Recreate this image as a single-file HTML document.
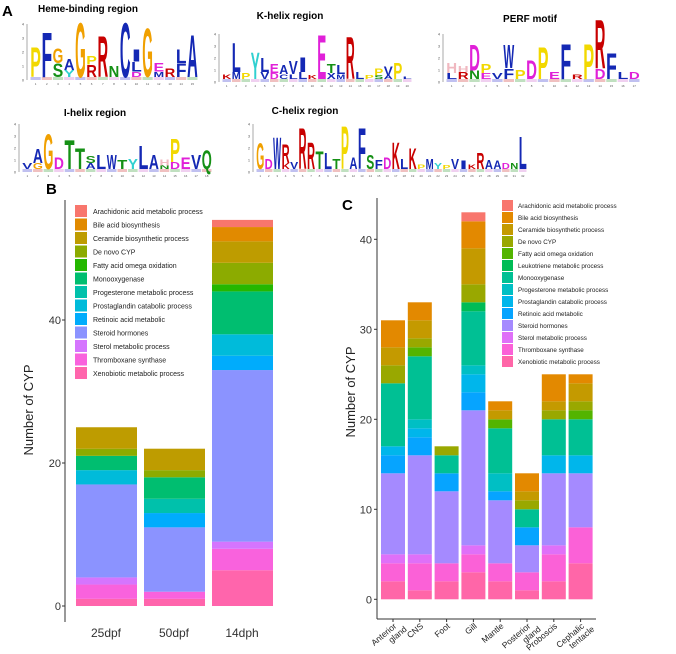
<!DOCTYPE html>
<html><head><meta charset="utf-8"><style>
body{margin:0;background:#fff;}
svg{display:block;font-family:"Liberation Sans",sans-serif;}
</style></head><body>
<svg id="fig" width="676" height="654" viewBox="0 0 676 654"></svg>
<script>
// ---------- Chart data ----------
const catsB = ["Arachidonic acid  metabolic process","Bile acid biosynthesis","Ceramide biosynthetic process","De novo CYP","Fatty acid omega   oxidation","Monooxygenase","Progesterone metabolic process","Prostaglandin catabolic process","Retinoic acid metabolic","Steroid hormones","Sterol metabolic process","Thromboxane synthase","Xenobiotic metabolic process"];
const colorsB = ["#F8766D","#E18A00","#BE9C00","#8CAB00","#24B700","#00BE70","#00C1AB","#00BBDA","#00ACFC","#8B93FF","#D575FE","#F962DD","#FF65AC"];
const groupsB = ["25dpf","50dpf","14dph"];
// values bottom-up ordering follows catsB (index), listed per group
const valsB_25dpf = [0,0,3,1,0,2,0,2,0,13,1,2,1];
const valsB_50dpf = [0,0,3,1,0,3,2,0,2,9,0,1,1];
const valsB_14dph = [1,2,3,3,1,6,0,3,2,24,1,3,5];
const ticksB = [0,20,40];

const catsC = ["Arachidonic acid  metabolic process","Bile acid biosynthesis","Ceramide biosynthetic process","De novo CYP","Fatty acid omega   oxidation","Leukotriene metabolic process","Monooxygenase","Progesterone metabolic process","Prostaglandin catabolic process","Retinoic acid metabolic","Steroid hormones","Sterol metabolic process","Thromboxane synthase","Xenobiotic metabolic process"];
const colorsC = ["#F8766D","#E38900","#C49A00","#99A800","#53B400","#00BC56","#00C094","#00BFC4","#00B6EB","#06A4FF","#A58AFF","#DF70F8","#FB61D7","#FF66A8"];
const groupsC = [["Anterior","gland"],["CNS"],["Foot"],["Gill"],["Mantle"],["Posterior","gland"],["Proboscis"],["Cephalic","tentacle"]];
const valsC_anterior = [0,3,2,2,0,0,7,0,1,2,9,1,2,2];
const valsC_cns      = [0,2,2,1,1,0,7,1,1,2,11,1,3,1];
const valsC_foot     = [0,0,0,1,0,0,2,0,0,2,8,0,2,2];
const valsC_gill     = [1,3,4,2,0,1,6,1,2,2,15,1,2,3];
const valsC_mantle   = [0,1,1,0,1,0,5,2,0,1,7,0,2,2];
const valsC_posterior= [0,2,1,1,0,0,2,0,0,2,3,0,2,1];
const valsC_proboscis= [0,3,1,1,0,0,4,0,2,0,8,1,3,2];
const valsC_cephalic = [0,1,2,1,1,0,4,0,2,0,6,0,4,4];
const ticksC = [0,10,20,30,40];

const NS="http://www.w3.org/2000/svg";
const svg=document.getElementById('fig');
function mk(tag,attrs,parent,txt){const e=document.createElementNS(NS,tag);for(const k in attrs)e.setAttribute(k,attrs[k]);if(txt!==undefined)e.textContent=txt;(parent||svg).appendChild(e);return e;}

// ---------- Panel labels ----------
let t;
t=mk('text',{x:2,y:16,'font-size':15,'font-weight':'bold'},svg,'A');


t=mk('text',{x:46,y:194,'font-size':15,'font-weight':'bold'},svg,'B');


t=mk('text',{x:342,y:210,'font-size':15,'font-weight':'bold'},svg,'C');



// ---------- Sequence logos ----------
const LC={P:"#f2d800",F:"#1428b4",G:"#f0a000",S:"#159015",A:"#1428b4",R:"#c80000",C:"#1428b4",L:"#1428b4",N:"#159015",E:"#e020d8",D:"#e020d8",Y:"#30d0d0",V:"#1428b4",I:"#1428b4",K:"#c80000",T:"#159015",W:"#1428b4",H:"#f0b8c0",M:"#1428b4",Q:"#159015",X:"#1428b4"};
function logo(name,title,tx,ty,x0,x1,base,bit,cols){
  const g=mk('g',{});
  
  
  const tt=mk('text',{x:tx,y:ty,'font-size':10,'font-weight':'bold','text-anchor':'middle'},g,title);
  
  
  mk('line',{x1:x0-3,x2:x0-3,y1:base,y2:base-4*bit,stroke:'#555','stroke-width':0.5},g);
  for(let i=0;i<=4;i++){mk('text',{x:x0-6,y:base-i*bit+1.5,'font-size':3.5,'text-anchor':'end',fill:'#444'},g,String(i));}
  const w=(x1-x0)/cols.length;
  cols.forEach((col,i)=>{
    let y=base;
    // small noise layer
    mk('rect',{x:x0+i*w+0.5,y:base-3,width:w-1,height:3,fill:['#c0c0f0','#f0c0c0','#c0e0c0','#f0d0f0'][i%4]},g);
    y-=3;
    for(let k=0;k<col.length;k+=2){
      const ch=col[k],h=col[k+1]*bit;
      const txt=mk('text',{x:0,y:0,'font-size':10,'font-weight':'bold',fill:LC[ch]||'#333',textLength:w*0.95/ (h/7.2) *0+w*0.95,lengthAdjust:'spacingAndGlyphs',transform:`translate(${x0+i*w+w*0.025},${y}) scale(1,${h/7.2})`},g,ch);
      y-=h;
    }
    mk('text',{x:x0+i*w+w/2,y:base+5,'font-size':3,'text-anchor':'middle',fill:'#555'},g,String(i+1));
  });
}
logo('heme-logo','Heme-binding region',88,12,30,198,80,14,[
 ['P',2.2],['F',3.3],['S',1.0,'G',1.1],['Y',0.5,'A',0.8],['G',4.0],['R',0.9,'P',0.6],['R',3.0],['N',0.8],['C',4.0],['D',0.4,'L',0.7,'I',0.9],['G',3.6],['M',0.4,'E',0.6],['R',0.6],['F',1.0,'L',1.0],['A',3.1]]);
logo('k-helix-logo','K-helix region',290,19,222,412,82,12,[
 ['K',0.4],['M',0.6,'L',2.5],['P',0.5],['Y',2.3],['V',0.6,'L',1.2],['D',0.5,'E',0.8],['C',0.4,'A',0.8],['L',0.4,'V',1.1],['L',0.6,'I',1.3],['K',0.3],['E',3.8],['X',0.5,'T',0.8],['M',0.4,'L',0.8],['R',3.6],['L',0.6],['P',0.3],['S',0.3,'P',0.6],['A',0.3,'V',0.8],['P',1.4],['L',0.2]]);
logo('perf-logo','PERF motif',530,22,446,640,82,12,[
 ['L',0.5,'H',0.9],['R',0.6,'H',0.5],['N',0.7,'D',2.2],['E',0.5,'P',0.8],['V',0.5],['F',0.9,'W',2.0],['P',0.8],['D',1.6],['P',2.7],['E',0.6],['F',3.0],['R',0.4],['P',3.0],['D',0.9,'R',4.2],['F',2.2],['L',0.6],['D',0.6]]);
logo('i-helix-logo','I-helix region',95,116,22,212,172,12,[
 ['V',0.5],['G',0.5,'A',1.2],['G',3.0],['D',1.0],['T',2.5],['T',1.8],['A',0.5,'S',0.6],['L',1.2],['W',1.2],['T',0.8],['Y',0.9],['L',2.0],['A',1.2],['N',0.3,'H',0.5],['D',0.6,'P',2.0],['E',1.0],['V',1.2],['Q',1.6]]);
logo('c-helix-logo','C-helix region',305,114,256,527,172,12,[
 ['G',2.2],['D',0.9],['W',2.7],['K',0.5,'R',1.6],['V',0.6],['R',3.5],['R',2.3],['T',1.5],['L',1.4],['T',0.9],['P',3.7],['A',1.0],['F',3.5],['S',1.2],['F',0.8],['D',1.0],['K',2.3],['L',0.9],['K',1.8],['P',0.4],['M',0.9],['Y',0.5],['P',0.3],['V',0.9],['I',0.7],['K',0.4],['R',1.4],['A',0.8],['A',0.7],['D',0.5],['N',0.5],['L',2.8]]);

// ---------- Chart B ----------
const yB=v=>606-v*7.15;
const barsB=[valsB_25dpf,valsB_50dpf,valsB_14dph];
const xB=i=>76+i*68;
const gB=mk('g',{});


let ax=mk('line',{x1:65,x2:65,y1:200,y2:622,stroke:'#333','stroke-width':1},gB);


ticksB.forEach(v=>{
  mk('line',{x1:62,x2:65,y1:yB(v),y2:yB(v),stroke:'#333'},gB);
  const tl=mk('text',{x:61,y:yB(v)+4,'font-size':11,'text-anchor':'end',fill:'#333'},gB,String(v));
  
  
});
let yt=mk('text',{x:0,y:0,'font-size':13,'text-anchor':'middle',fill:'#222',transform:'translate(33,410) rotate(-90)'},gB,'Number of CYP');


barsB.forEach((vals,i)=>{
  let cum=0;
  for(let k=vals.length-1;k>=0;k--){
    if(!vals[k])continue;
    const r=mk('rect',{x:xB(i),y:yB(cum+vals[k]),width:61,height:yB(cum)-yB(cum+vals[k]),fill:colorsB[k]},gB);
    
    
    cum+=vals[k];
  }
  const xl=mk('text',{x:xB(i)+30,y:637,'font-size':12,'text-anchor':'middle',fill:'#333'},gB,groupsB[i]);
  
  
});
catsB.forEach((c,k)=>{
  const y=205+k*13.5;
  const s=mk('rect',{x:75,y:y,width:12,height:12,fill:colorsB[k]},gB);
  
  
  const l=mk('text',{x:93,y:y+9,'font-size':7,fill:'#222'},gB,c);
  
  
});

// ---------- Chart C ----------
const yC=v=>599.3-v*9.0;
const barsC=[valsC_anterior,valsC_cns,valsC_foot,valsC_gill,valsC_mantle,valsC_posterior,valsC_proboscis,valsC_cephalic];
const xC=i=>381+i*26.8;
const gC=mk('g',{});


ax=mk('line',{x1:377,x2:377,y1:198,y2:619,stroke:'#333'},gC);


ax=mk('line',{x1:377,x2:596,y1:619,y2:619,stroke:'#333'},gC);


ticksC.forEach(v=>{
  mk('line',{x1:374,x2:377,y1:yC(v),y2:yC(v),stroke:'#333'},gC);
  const tl=mk('text',{x:372,y:yC(v)+4,'font-size':11,'text-anchor':'end',fill:'#333'},gC,String(v));
  
  
});
yt=mk('text',{x:0,y:0,'font-size':13,'text-anchor':'middle',fill:'#222',transform:'translate(355,392) rotate(-90)'},gC,'Number of CYP');


barsC.forEach((vals,i)=>{
  let cum=0;
  for(let k=vals.length-1;k>=0;k--){
    if(!vals[k])continue;
    const r=mk('rect',{x:xC(i),y:yC(cum+vals[k]),width:24,height:yC(cum)-yC(cum+vals[k]),fill:colorsC[k]},gC);
    
    
    cum+=vals[k];
  }
  mk('line',{x1:xC(i)+12,x2:xC(i)+12,y1:619,y2:622,stroke:'#333'},gC);
  const lg=mk('text',{x:0,y:0,'font-size':8.5,'text-anchor':'end',fill:'#222',transform:`translate(${xC(i)+16},${627}) rotate(-40)`},gC);
  
  
  groupsC[i].forEach((w,j)=>{mk('tspan',{x:0,dy:j?9:0,dx:j?6:0},lg,w);});
});
catsC.forEach((c,k)=>{
  const y=200+k*12;
  const s=mk('rect',{x:502,y:y,width:11,height:11,fill:colorsC[k]},gC);
  
  
  const l=mk('text',{x:518,y:y+8,'font-size':6.3,fill:'#222'},gC,c);
  
  
});
</script>
</body></html>
